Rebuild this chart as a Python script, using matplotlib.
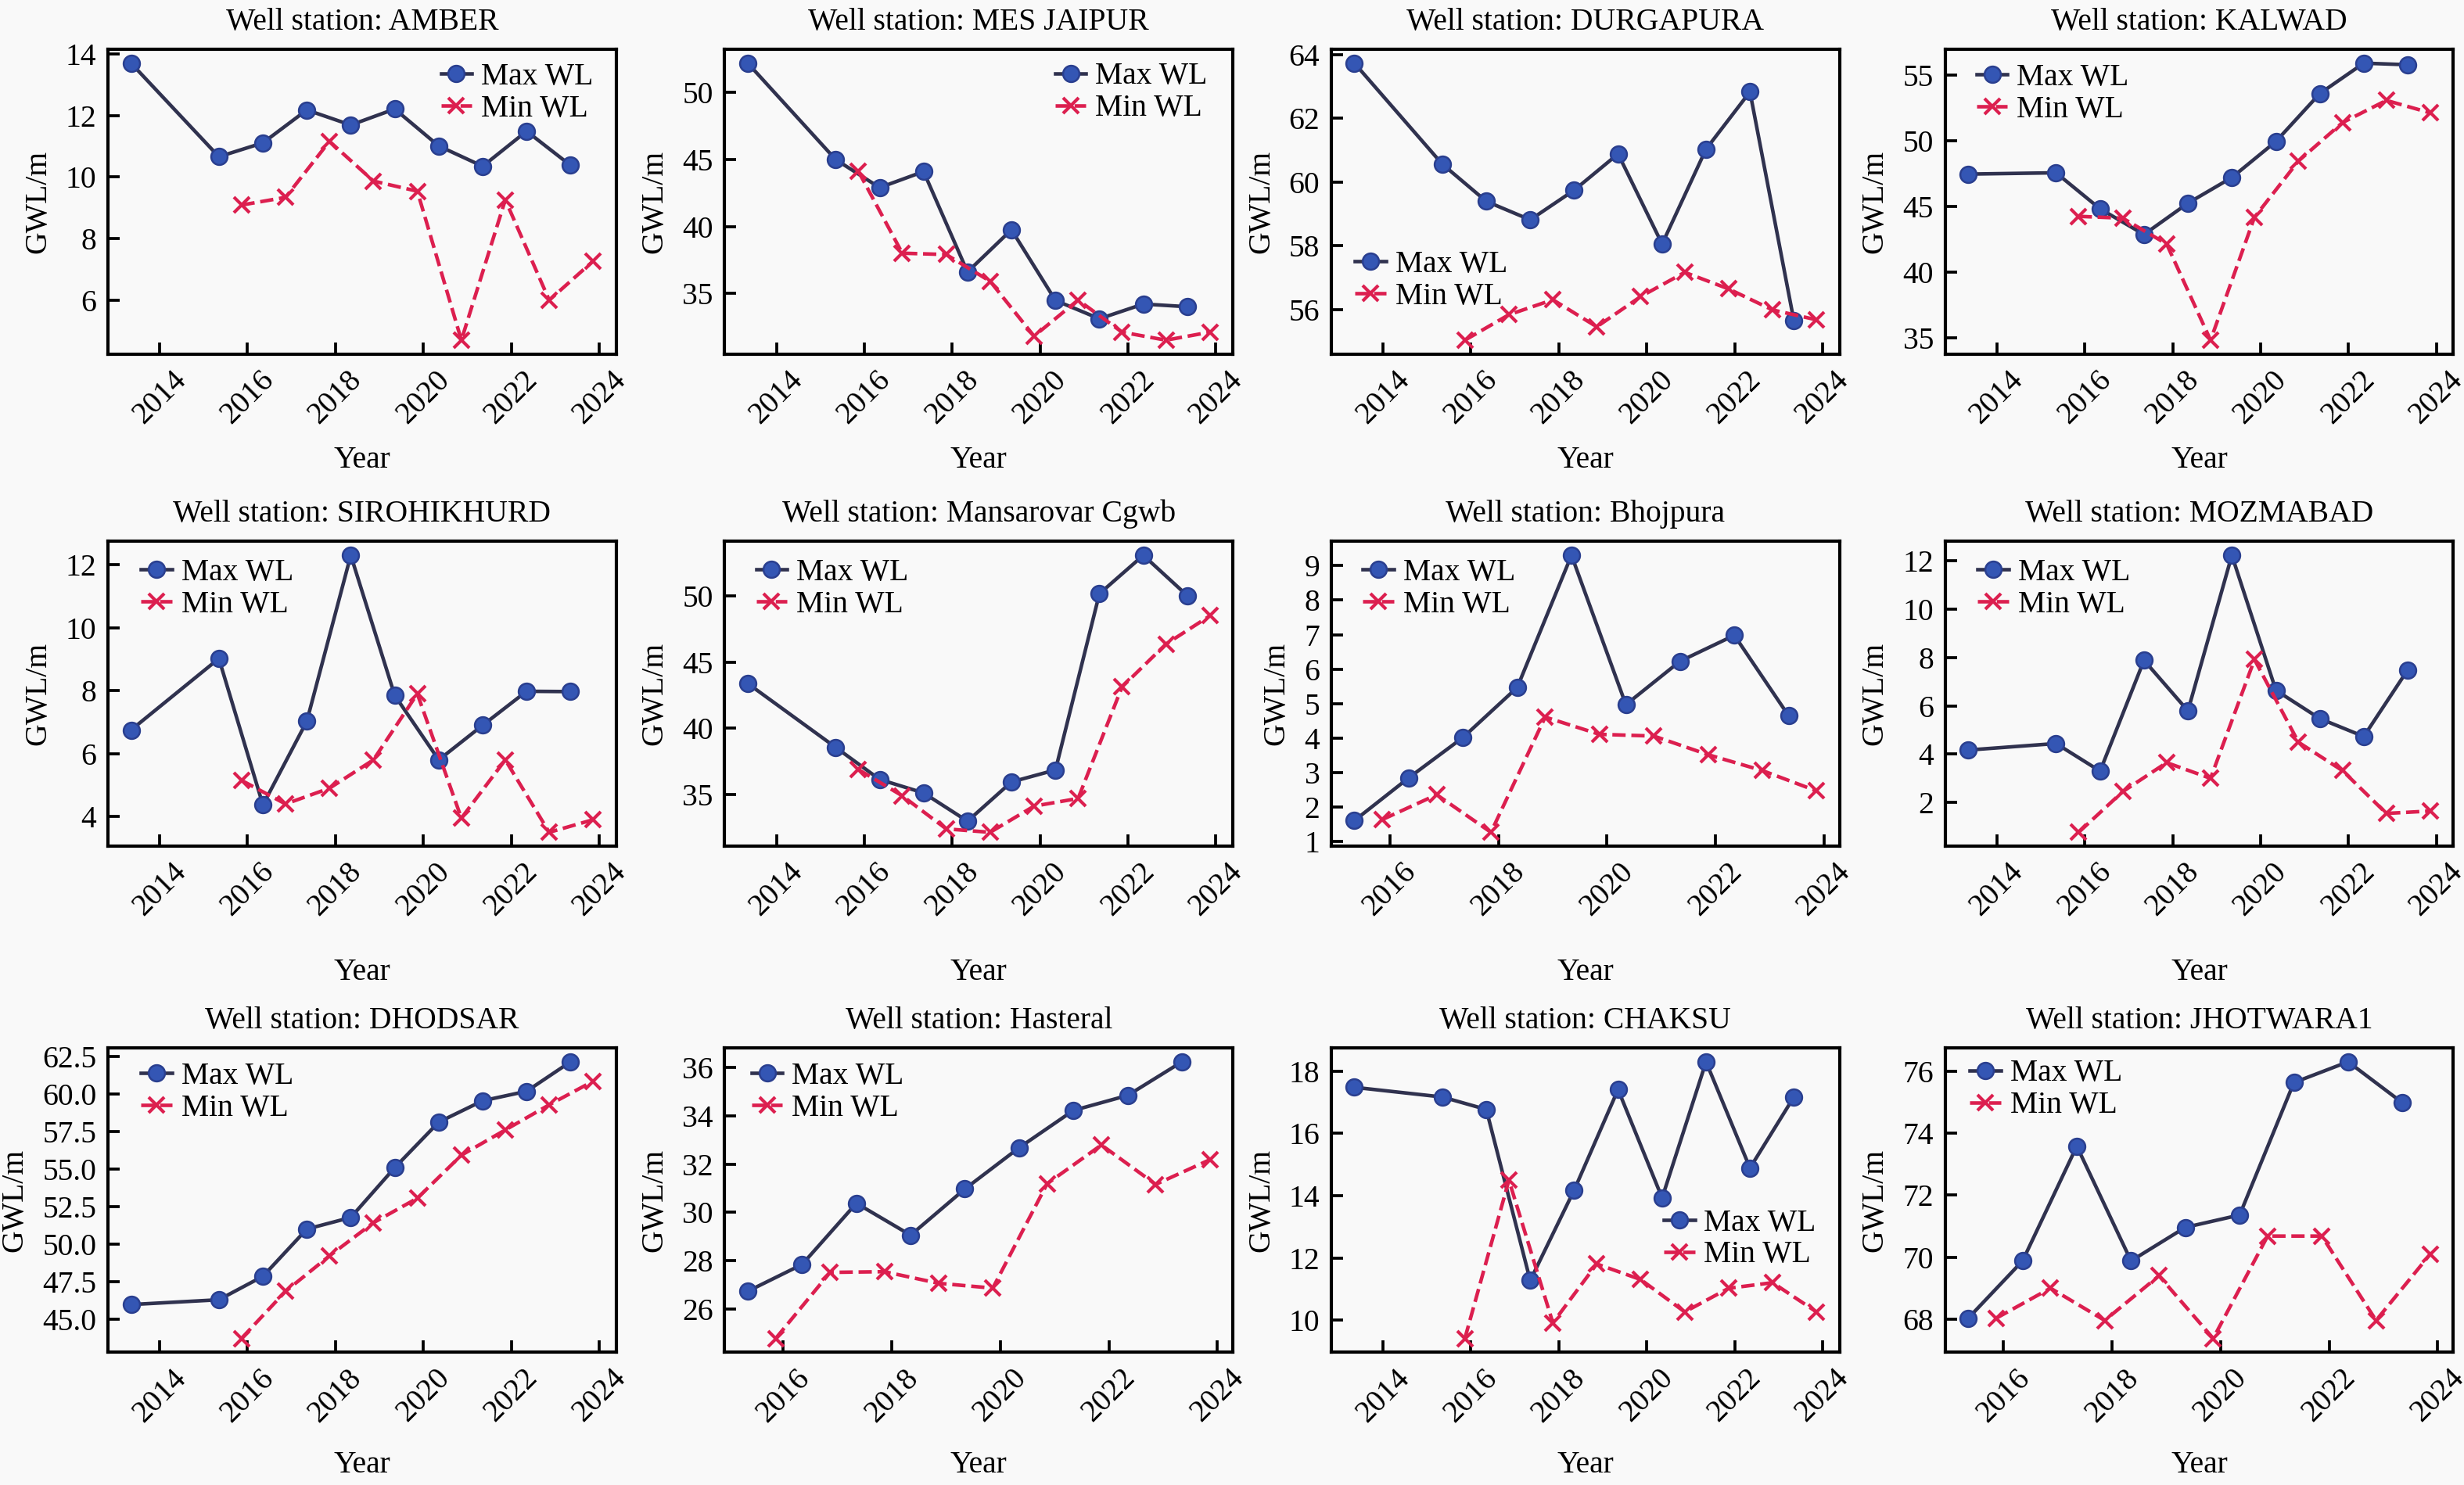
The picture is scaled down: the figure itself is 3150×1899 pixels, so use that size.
import datetime as dt

import matplotlib
matplotlib.use("Agg")
import matplotlib.pyplot as plt
import matplotlib.dates as mdates
from matplotlib.ticker import MultipleLocator

matplotlib.rcParams.update({
    'font.family': 'serif',
    'font.serif': ['Liberation Serif', 'Times New Roman', 'DejaVu Serif'],
    'font.size': 9.5, 'axes.titlesize': 9.5, 'axes.labelsize': 9.5,
    'xtick.labelsize': 9.5, 'ytick.labelsize': 9.5, 'legend.fontsize': 9.5,
    'xtick.direction': 'in', 'ytick.direction': 'in',
    'axes.linewidth': 1.0,
    'figure.facecolor': '#f9f9f9', 'axes.facecolor': '#f9f9f9',
})

# pre-monsoon (max) readings taken in May, post-monsoon (min) in November
YEARS_MAX_LONG = [2013, 2015, 2016, 2017, 2018, 2019, 2020, 2021, 2022, 2023]
YEARS_MAX_SHORT = [2015, 2016, 2017, 2018, 2019, 2020, 2021, 2022, 2023]
YEARS_MIN = [2015, 2016, 2017, 2018, 2019, 2020, 2021, 2022, 2023]

STATIONS = ["AMBER", "MES JAIPUR", "DURGAPURA", "KALWAD",
            "SIROHIKHURD", "Mansarovar Cgwb", "Bhojpura", "MOZMABAD",
            "DHODSAR", "Hasteral", "CHAKSU", "JHOTWARA1"]

AMBER_MAX = [13.7, 10.66, 11.11, 12.18, 11.69, 12.21, 11.01, 10.35, 11.49, 10.38]
AMBER_MIN = [9.09, 9.34, 11.16, 9.87, 9.54, 4.70, 9.26, 6.0, 7.27]
MES_MAX = [52.2, 45.0, 42.9, 44.1, 36.6, 39.75, 34.47, 33.1, 34.2, 34.0]
MES_MIN = [44.14, 38.0, 37.9, 35.9, 31.8, 34.5, 32.1, 31.5, 32.1]
DURGA_MAX = [63.73, 60.56, 59.39, 58.81, 59.74, 60.88, 58.05, 61.03, 62.83, 55.64]
DURGA_MIN = [55.03, 55.83, 56.30, 55.45, 56.40, 57.16, 56.64, 55.98, 55.67]
KALWAD_MAX = [47.45, 47.55, 44.81, 42.86, 45.24, 47.19, 49.93, 53.57, 55.88, 55.76]
KALWAD_MIN = [44.24, 44.10, 42.14, 34.83, 44.17, 48.45, 51.36, 53.05, 52.1]
SIRO_MAX = [6.75, 9.02, 4.37, 7.03, 12.3, 7.85, 5.8, 6.9, 7.98, 7.97]
SIRO_MIN = [5.15, 4.4, 4.9, 5.8, 7.9, 3.95, 5.8, 3.5, 3.9]
MANSA_MAX = [43.4, 38.57, 36.14, 35.12, 32.98, 35.95, 36.86, 50.19, 53.1, 50.05]
MANSA_MIN = [36.9, 34.9, 32.4, 32.14, 34.12, 34.7, 43.14, 46.38, 48.52]
BHOJ_MAX = [1.61, 2.85, 4.02, 5.47, 9.3, 4.97, 6.23, 6.98, 4.65]
BHOJ_MIN = [1.64, 2.36, 1.27, 4.61, 4.11, 4.06, 3.52, 3.06, 2.47]
MOZ_MAX = [4.17, 4.44, 3.30, 7.88, 5.79, 12.22, 6.64, 5.47, 4.73, 7.48]
MOZ_MIN = [0.77, 2.45, 3.65, 3.0, 7.91, 4.49, 3.32, 1.55, 1.65]
DHOD_MAX = [45.98, 46.3, 47.86, 51.0, 51.77, 55.08, 58.11, 59.53, 60.16, 62.12]
DHOD_MIN = [43.73, 46.86, 49.22, 51.42, 53.05, 55.91, 57.59, 59.26, 60.83]
HAST_MAX = [26.74, 27.85, 30.38, 29.06, 30.97, 32.68, 34.22, 34.84, 36.23]
HAST_MIN = [24.79, 27.52, 27.55, 27.07, 26.87, 31.19, 32.79, 31.16, 32.18]
CHAKSU_MAX = [17.48, 17.17, 16.77, 11.28, 14.18, 17.41, 13.93, 18.3, 14.89, 17.17]
CHAKSU_MIN = [9.42, 14.5, 9.92, 11.81, 11.31, 10.27, 11.03, 11.21, 10.27]
JHOT_MAX = [68.03, 69.88, 73.58, 69.88, 70.96, 71.36, 75.63, 76.3, 74.98]
JHOT_MIN = [68.03, 69.0, 67.96, 69.4, 67.38, 70.68, 70.68, 67.96, 70.1]

MAX_SERIES = [AMBER_MAX, MES_MAX, DURGA_MAX, KALWAD_MAX, SIRO_MAX, MANSA_MAX,
              BHOJ_MAX, MOZ_MAX, DHOD_MAX, HAST_MAX, CHAKSU_MAX, JHOT_MAX]
MIN_SERIES = [AMBER_MIN, MES_MIN, DURGA_MIN, KALWAD_MIN, SIRO_MIN, MANSA_MIN,
              BHOJ_MIN, MOZ_MIN, DHOD_MIN, HAST_MIN, CHAKSU_MIN, JHOT_MIN]

# y tick spacing per panel
Y_STEP = [2, 5, 2, 5, 2, 5, 1, 2, 2.5, 2, 2, 2]

# legend anchor (axes fraction: left of handle, middle of the two rows)
LEGEND_POS = [(0.655, 0.856), (0.650, 0.858), (0.047, 0.241), (0.062, 0.853),
              (0.065, 0.845), (0.062, 0.845), (0.062, 0.845), (0.064, 0.845),
              (0.065, 0.853), (0.053, 0.853), (0.654, 0.372), (0.049, 0.863)]

MAX_LINE = '#30324f'
MAX_FACE = '#3456b4'
MIN_COLOR = '#dc1f4f'

COL_LEFT = [0.0438, 0.2941, 0.5403, 0.7894]
ROW_BOTTOM = [0.7616, 0.4302, 0.0894]
ROW_TOP = [0.9668, 0.6354, 0.2943]
AX_W = 0.2063
XLABEL_PAD = [5, 11, 7]


def to_dates(years, month, day):
    return [dt.date(y, month, day) for y in years]


fig = plt.figure(figsize=(10.5, 6.33), dpi=300)

for i, name in enumerate(STATIONS):
    r, c = divmod(i, 4)
    ax = fig.add_axes([COL_LEFT[c], ROW_BOTTOM[r], AX_W, ROW_TOP[r] - ROW_BOTTOM[r]])
    mx = MAX_SERIES[i]
    yrs = YEARS_MAX_LONG if len(mx) == 10 else YEARS_MAX_SHORT
    ax.plot(to_dates(yrs, 5, 8), mx, '-o', color=MAX_LINE, lw=1.1,
            ms=5, mfc=MAX_FACE, mec='#2a3f8f', mew=0.6, label='Max WL')
    ax.plot(to_dates(YEARS_MIN, 11, 12), MIN_SERIES[i], '--x', color=MIN_COLOR,
            lw=1.1, ms=5, mew=1.0, label='Min WL')

    ax.xaxis.set_major_locator(mdates.YearLocator(2))
    ax.xaxis.set_major_formatter(mdates.DateFormatter('%Y'))
    ax.yaxis.set_major_locator(MultipleLocator(Y_STEP[i]))
    for lbl in ax.get_xticklabels():
        lbl.set_rotation(45)
        lbl.set_ha('center')
    ax.tick_params(top=False, right=False, length=3.5, width=0.9)

    ax.set_title(f"Well station: {name}")
    ax.set_xlabel("Year", labelpad=XLABEL_PAD[r])
    ax.set_ylabel("GWL/m")
    lx, ly = LEGEND_POS[i]
    ax.legend(loc='center left', bbox_to_anchor=(lx, ly), frameon=False,
              handlelength=1.0, handletextpad=0.3, labelspacing=0.1,
              borderpad=0, borderaxespad=0)

fig.savefig("out.png", dpi=300, facecolor=fig.get_facecolor())
